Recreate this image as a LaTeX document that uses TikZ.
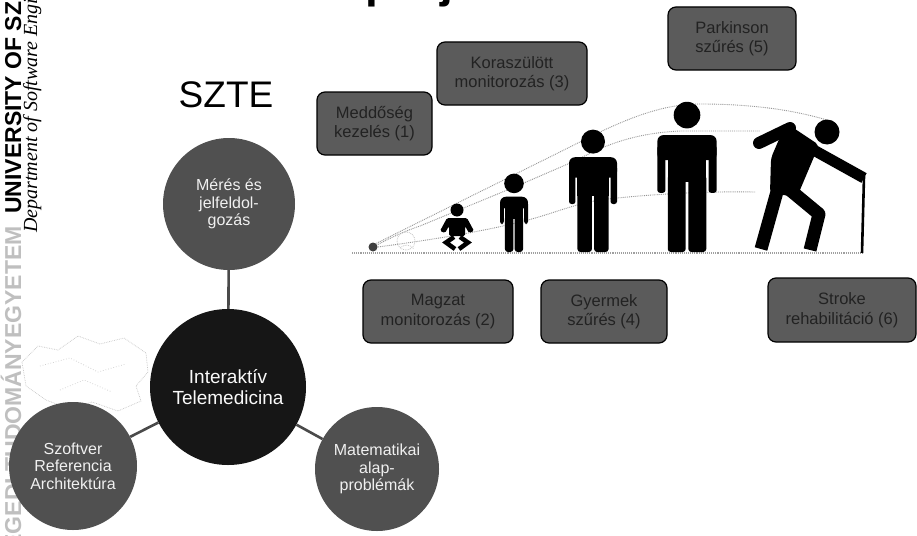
\documentclass[tikz,border=0pt]{standalone}
\usepackage{fontspec}
\setmainfont{Liberation Sans}
\newfontfamily\serifit{Liberation Serif}
\definecolor{circfill}{HTML}{505050}
\definecolor{corefill}{HTML}{161616}
\definecolor{boxfill}{HTML}{5B5B5B}
\definecolor{boxtext}{HTML}{222222}
\definecolor{linkcol}{HTML}{4A4A4A}
\definecolor{trail}{HTML}{959595}

\tikzset{
  outercirc/.style={circle, fill=circfill, text=white!88!gray, align=center,
    inner sep=0pt, font=\fontsize{16}{17.5}\selectfont},
  corecirc/.style={circle, fill=corefill, text=white!95!gray, align=center,
    inner sep=0pt, font=\fontsize{19}{21}\selectfont},
  projbox/.style={rectangle, rounded corners=8pt, draw=black, line width=1.2pt,
    fill=boxfill, text=boxtext, align=center, inner sep=2pt,
    font=\fontsize{16.5}{19.5}\selectfont},
  link/.style={draw=linkcol, line width=2.6pt},
  trailline/.style={draw=trail, densely dotted, line width=0.9pt},
  groundline/.style={draw=gray!75, densely dotted, line width=1.1pt},
  limb/.style={draw=black, line join=round, line cap=butt},
}

% standing pictogram: x position, scale, head radius, head centre height (units)
\newcommand\standfig[4]{%
  \begin{scope}[shift={(#1,252)}, scale=#2]
    \fill (0,-#4) circle (#3);
    \fill[rounded corners=6] (-20,-79) rectangle (20,-62);
    \fill (-13,-70) rectangle (13,-47);
    \fill[rounded corners=2.5] (-20,-72) rectangle (-14.6,-40);
    \fill[rounded corners=2.5] (14.6,-72) rectangle (20,-40);
    \fill[rounded corners=3] (-13,-52) rectangle (-0.9,0);
    \fill[rounded corners=3] (0.9,-52) rectangle (13,0);
  \end{scope}}

\begin{document}
\begin{tikzpicture}[x=1pt, y=-1pt]
\clip (0,0) rectangle (917,535);
\fill[white] (0,0) rectangle (917,535);

% heading, cut by the top edge
\node[anchor=base west, inner sep=0pt, font=\fontsize{46}{46}\selectfont\bfseries] (title) at (65,-2.5) {Telemedicina projektek};

% vertical institution banner
\node[rotate=90, anchor=base east, inner sep=0pt, text=gray!50,
  font=\fontsize{23}{23}\selectfont\bfseries] (hun) at (21,226) {SZEGEDI TUDOMÁNYEGYETEM};
\node[rotate=90, anchor=base west, inner sep=0pt,
  font=\fontsize{23}{23}\selectfont\bfseries] (uni) at (21,214) {UNIVERSITY OF SZEGED};
\node[rotate=90, anchor=base west, inner sep=0pt,
  font=\fontsize{20}{20}\selectfont\serifit\itshape] (dept) at (37,233) {Department of Software Engineering};

% faint stippled map
\draw[gray!45, densely dotted, line width=0.7pt]
  (22,362) -- (38,346) -- (58,350) -- (78,336) -- (100,344) -- (124,338)
  -- (146,353) -- (148,372) -- (136,386) -- (141,401) -- (118,411)
  -- (92,402) -- (70,409) -- (46,400) -- (26,386) -- cycle;
\draw[gray!40, dotted, line width=0.7pt] (40,366) -- (70,358) -- (98,372) -- (126,364);
\draw[gray!40, dotted, line width=0.7pt] (60,390) -- (84,380) -- (112,392);

% heading of the left part
\node[anchor=base, inner sep=0pt, font=\fontsize{37}{37}\selectfont] (szte) at (226,107) {SZTE};

% research areas
\node[outercirc, minimum size=132pt] (meres) at (229,204) {Mérés és\\jelfeldol-\\gozás};
\node[corecirc, minimum size=156pt] (core) at (228,387) {Interaktív\\Telemedicina};
\node[outercirc, minimum size=128pt] (szoft) at (73,466) {Szoftver\\Referencia\\Architektúra};
\node[outercirc, minimum size=124pt] (matek) at (377,469) {Matematikai\\alap-\\problémák};

\draw[link] (meres) -- (core);
\draw[link] (core) -- (szoft);
\draw[link] (core) -- (matek);

% life stages: ground and growth trails
\coordinate (g0) at (352,253);
\coordinate (g1) at (863,253);
\draw[groundline] (g0) -- (g1);
\draw[trailline] (373,245) -- (600,132) .. controls (640,113) and (670,104) .. (700,104)
  .. controls (760,104) and (800,112) .. (827,120);
\draw[trailline] (373,247) .. controls (390,238) and (405,231) .. (420,226) -- (517,186)
  -- (577,160) .. controls (610,142) and (640,133) .. (680,131) -- (760,131);
\draw[trailline] (378,247) .. controls (430,240) and (480,232) .. (520,222)
  .. controls (550,215) and (570,205) .. (600,200) .. controls (640,195) and (700,191) .. (755,192);

% embryo and fetus
\fill[black!75] (373,247) circle (4.5);
\draw[gray!45, densely dotted, line width=0.8pt] (406,241) circle (9);
\draw[gray!45, densely dotted, line width=0.8pt] (400,248) .. controls (404,244) and (410,244) .. (414,249);

% baby
\fill (457,210) circle (6.5);
\fill[rounded corners=1.5] (447,218) -- (467,218) -- (474,231) -- (469,233) -- (465,226)
  -- (465,236) -- (449,236) -- (449,226) -- (445,233) -- (440,231) -- cycle;
\draw[limb, line width=4.5pt, line join=miter] (454,237) -- (446,242.5) -- (455,249);
\draw[limb, line width=4.5pt, line join=miter] (460,237) -- (468,242.5) -- (459,249);

% child, youth, adult
\standfig{514}{0.7}{14}{98}
\standfig{593}{1.2}{10}{92}
\standfig{687}{1.48}{9}{92.5}

% elderly person with a cane
\fill (827,132) circle (12.5);
\fill[rounded corners=4] (786,123) -- (819,145) -- (797,197) -- (770,193) -- (771,158) -- cycle;
\draw[limb, line width=12pt, line cap=round] (790,128) -- (759,143);
\draw[limb, line width=11pt] (810,148) -- (864,178);
\draw[limb, line width=13pt] (778,188) -- (761,249);
\draw[limb, line width=13pt] (790,190) -- (819,214) -- (810,250);
\draw[limb, line width=2.6pt] (864,176) -- (862,253);

% projects
\node[projbox, minimum width=115pt, minimum height=63pt] (meddo) at (374.5,123.5) {Meddőség\\kezelés (1)};
\node[projbox, minimum width=150pt, minimum height=63pt] (kora) at (512,73.5) {Koraszülött\\monitorozás (3)};
\node[projbox, minimum width=128pt, minimum height=63pt] (park) at (732,38.5) {Parkinson\\szűrés (5)};
\node[projbox, minimum width=150pt, minimum height=63pt] (magzat) at (438,311.5) {Magzat\\monitorozás (2)};
\node[projbox, minimum width=126pt, minimum height=63pt] (gyermek) at (604,311.5) {Gyermek\\szűrés (4)};
\node[projbox, minimum width=148pt, minimum height=64pt] (stroke) at (842,310) {Stroke\\rehabilitáció (6)};
\end{tikzpicture}
\end{document}
